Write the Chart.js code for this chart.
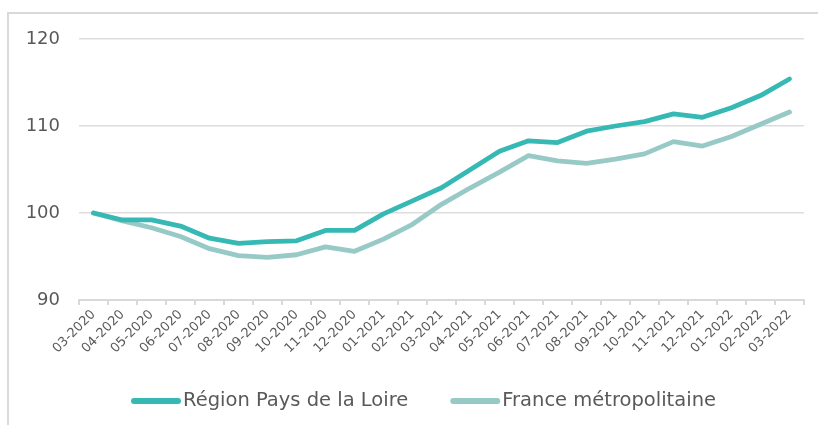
<!DOCTYPE html>
<html>
<head>
<meta charset="utf-8">
<script src="https://cdn.jsdelivr.net/npm/chart.js@4.4.1/dist/chart.umd.min.js"></script>
<style>
  html, body { margin: 0; padding: 0; background: #fff; overflow: hidden; }
  #frame { position: absolute; left: 7px; top: 12px; width: 900px; height: 500px; border: 2px solid #d9d9d9; }
  #wrap { position: absolute; left: 0; top: 0; width: 818px; height: 425px; }
</style>
</head>
<body>
<div id="frame"></div>
<div id="wrap"><canvas id="c" width="818" height="425"></canvas></div>
<script>
const categories = ["03-2020","04-2020","05-2020","06-2020","07-2020","08-2020","09-2020","10-2020","11-2020","12-2020",
  "01-2021","02-2021","03-2021","04-2021","05-2021","06-2021","07-2021","08-2021","09-2021","10-2021","11-2021","12-2021",
  "01-2022","02-2022","03-2022"];
const paysDeLaLoire = [100, 99.2, 99.2, 98.5, 97.1, 96.5, 96.7, 96.8, 98.0, 98.0,
  99.9, 101.4, 102.9, 105.0, 107.1, 108.3, 108.1, 109.4, 110.0, 110.5, 111.4, 111.0,
  112.1, 113.5, 115.4];
const franceMetro = [100, 99.1, 98.3, 97.3, 95.9, 95.1, 94.9, 95.2, 96.1, 95.6,
  97.0, 98.7, 101.0, 102.9, 104.7, 106.6, 106.0, 105.7, 106.2, 106.8, 108.2, 107.7,
  108.8, 110.2, 111.6];
const yTicks = [90, 100, 110, 120];

const grey = '#595959';

// Custom legend drawn on the chart canvas (line sample + label)
const lineLegend = {
  id: 'lineLegend',
  afterDraw(chart) {
    const ctx = chart.ctx;
    const y = 401;
    let x = 134;
    ctx.save();
    ctx.font = "19.5px 'DejaVu Sans'";
    ctx.textBaseline = 'middle';
    chart.data.datasets.forEach((ds) => {
      ctx.strokeStyle = ds.borderColor;
      ctx.lineWidth = 6;
      ctx.lineCap = 'round';
      ctx.beginPath();
      ctx.moveTo(x, y);
      ctx.lineTo(x + 44, y);
      ctx.stroke();
      const tx = x + 49;
      ctx.fillStyle = grey;
      ctx.fillText(ds.label, tx, y);
      x = tx + ctx.measureText(ds.label).width + 45;
    });
    ctx.restore();
  }
};

new Chart(document.getElementById('c'), {
  type: 'line',
  data: {
    labels: categories,
    datasets: [
      { label: 'Région Pays de la Loire', data: paysDeLaLoire, borderColor: '#36b9b4', backgroundColor: '#36b9b4',
        borderWidth: 4.8, pointRadius: 0, tension: 0, borderCapStyle: 'round', borderJoinStyle: 'round' },
      { label: 'France métropolitaine', data: franceMetro, borderColor: '#97cac6', backgroundColor: '#97cac6',
        borderWidth: 4.8, pointRadius: 0, tension: 0, borderCapStyle: 'round', borderJoinStyle: 'round' }
    ]
  },
  plugins: [lineLegend],
  options: {
    responsive: false,
    animation: false,
    layout: { padding: { left: 0, right: 14, top: 39, bottom: 0 } },
    plugins: {
      tooltip: { enabled: false },
      legend: { display: false }
    },
    scales: {
      x: {
        offset: true,
        afterFit: (s) => { s.height = 125; },
        grid: { display: true, drawOnChartArea: false, drawTicks: true, tickLength: 5, color: '#d9d9d9', lineWidth: 2, offset: true },
        border: { display: true, color: '#d9d9d9', width: 2 },
        ticks: { color: grey, font: { family: "'DejaVu Sans'", size: 13 }, maxRotation: 45, minRotation: 45, autoSkip: false, padding: 2 }
      },
      y: {
        min: 90, max: 120,
        afterBuildTicks: (s) => { s.ticks = yTicks.map(v => ({ value: v })); },
        afterFit: (s) => { s.width = 79; },
        grid: { color: '#dddddd', lineWidth: 1.5, drawTicks: false },
        border: { display: false },
        ticks: { color: grey, font: { family: "'DejaVu Sans'", size: 18 }, padding: 19 }
      }
    }
  }
});
</script>
</body>
</html>
